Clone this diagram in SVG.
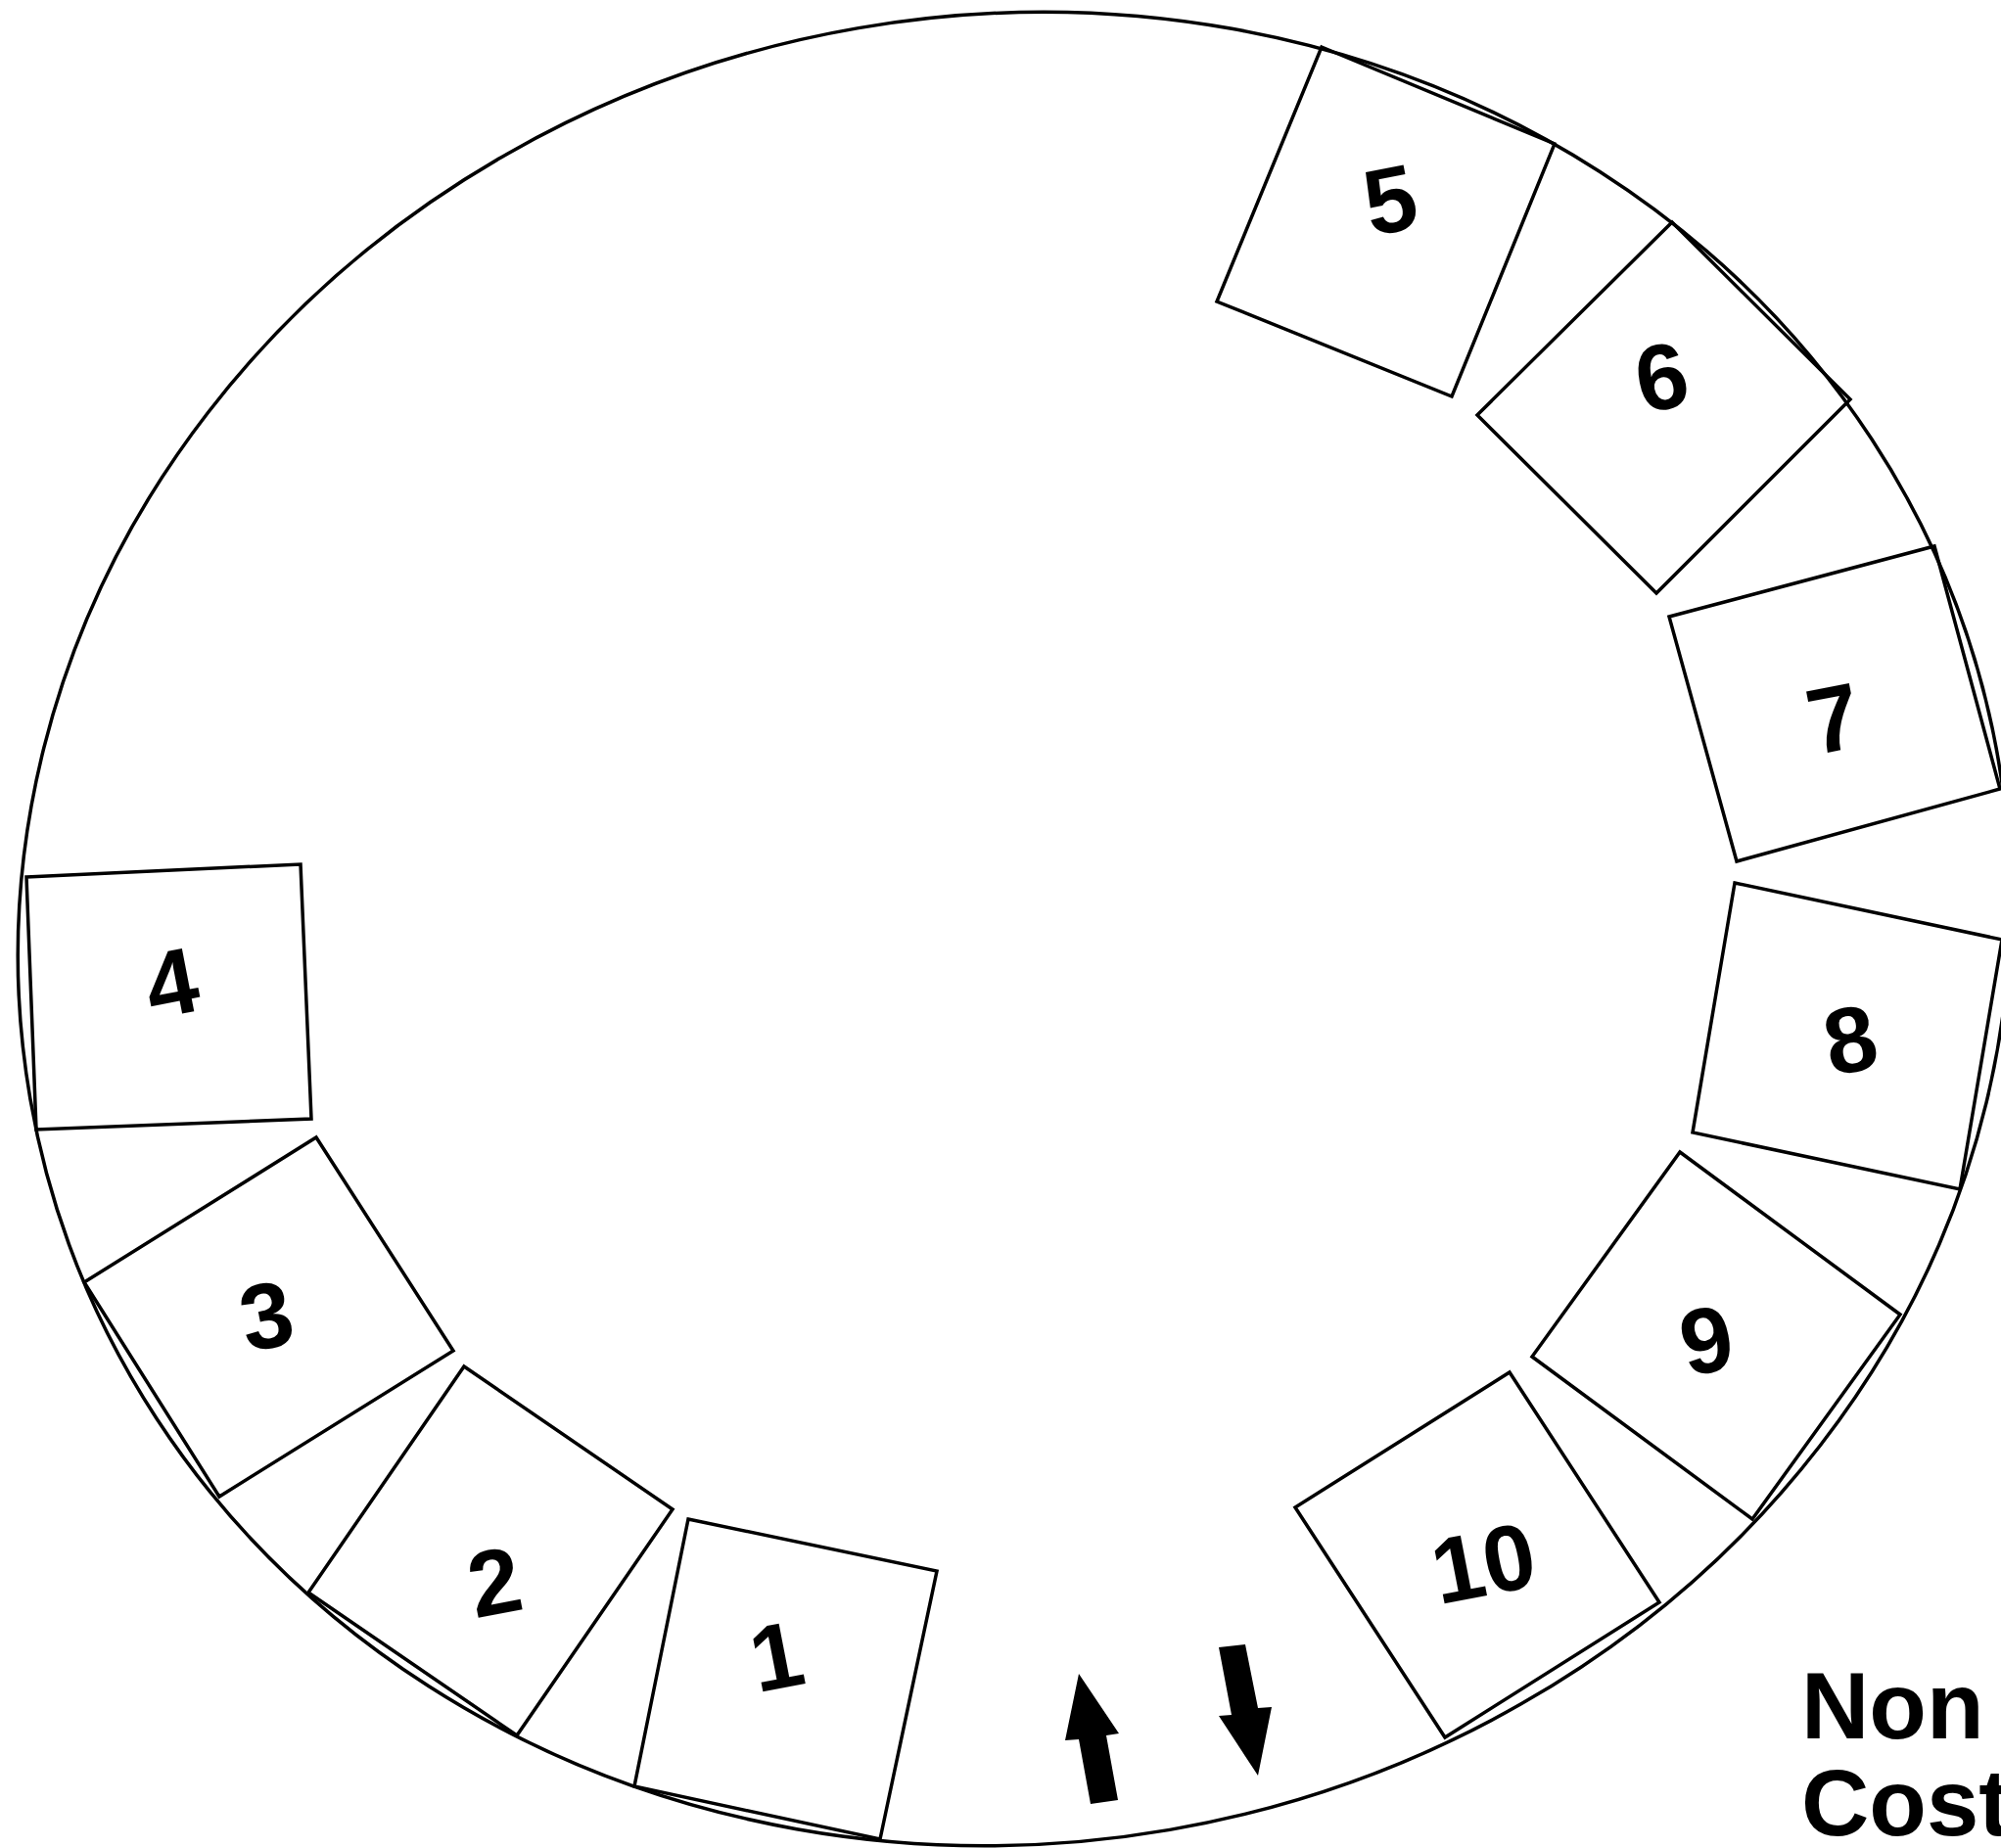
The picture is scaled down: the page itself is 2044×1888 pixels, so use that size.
<svg xmlns="http://www.w3.org/2000/svg" width="2044" height="1888" viewBox="0 0 2044 1888">
  <style>
    .ring { fill: none; stroke: #000; stroke-width: 3.5; }
    .box { fill: none; stroke: #000; stroke-width: 3.5; stroke-linejoin: miter; }
    .num { font-family: "Liberation Sans", Arial, sans-serif; font-weight: bold; font-size: 95px; text-anchor: middle; fill: #000; }
    .label { font-family: "Liberation Sans", Arial, sans-serif; font-weight: bold; font-size: 96px; fill: #000; }
    .arrow { fill: #000; stroke: none; }
  </style>
  <rect width="2044" height="1888" fill="#fff"/>
  <g id="ring">
    <ellipse class="ring" cx="1036" cy="949" rx="1020" ry="934" transform="rotate(-9.8 1036 949)"/>
  </g>
  <g id="node-1">
    <polygon class="box" points="703,1552 957,1605 899,1879 648,1825"/>
    <text class="num" transform="translate(793 1691) rotate(-11)" y="34">1</text>
  </g>
  <g id="node-2">
    <polygon class="box" points="474,1396 687,1542 528,1773 315,1627"/>
    <text class="num" transform="translate(505 1615) rotate(-11)" y="34">2</text>
  </g>
  <g id="node-3">
    <polygon class="box" points="86,1310 323,1162 463,1380 224,1529"/>
    <text class="num" transform="translate(272 1343) rotate(-11)" y="34">3</text>
  </g>
  <g id="node-4">
    <polygon class="box" points="27,896 307,883 318,1143 37,1154"/>
    <text class="num" transform="translate(175 1003) rotate(-11)" y="34">4</text>
  </g>
  <g id="node-5">
    <polygon class="box" points="1350,48 1588,147 1483,405 1243,308"/>
    <text class="num" transform="translate(1420 203) rotate(-11)" y="34">5</text>
  </g>
  <g id="node-6">
    <polygon class="box" points="1708,227 1890,408 1692,606 1509,424"/>
    <text class="num" transform="translate(1697 384) rotate(-11)" y="34">6</text>
  </g>
  <g id="node-7">
    <polygon class="box" points="1705,630 1976,558 2043,806 1774,880"/>
    <text class="num" transform="translate(1873 733) rotate(-11)" y="34">7</text>
  </g>
  <g id="node-8">
    <polygon class="box" points="1772,902 2045,960 2002,1215 1729,1157"/>
    <text class="num" transform="translate(1890 1061) rotate(-11)" y="34">8</text>
  </g>
  <g id="node-9">
    <polygon class="box" points="1716,1177 1941,1343 1790,1552 1565,1386"/>
    <text class="num" transform="translate(1743 1368) rotate(-11)" y="34">9</text>
  </g>
  <g id="node-10">
    <polygon class="box" points="1542,1402 1695,1637 1476,1775 1323,1540"/>
    <text class="num" transform="translate(1515 1596) rotate(-11)" y="34">10</text>
  </g>
  <g id="connectors">
    <polygon class="arrow" points="1102,1710 1143,1771 1130,1773 1142,1839 1114,1843 1102,1777 1088,1778"/>
    <polygon class="arrow" points="1245,1683 1272,1680 1285,1745 1299,1744 1285,1814 1245,1753 1258,1752"/>
  </g>
  <g id="caption">
    <text class="label" x="1840" y="1776">Non</text>
    <text class="label" x="1840" y="1875">Cost</text>
  </g>
</svg>
